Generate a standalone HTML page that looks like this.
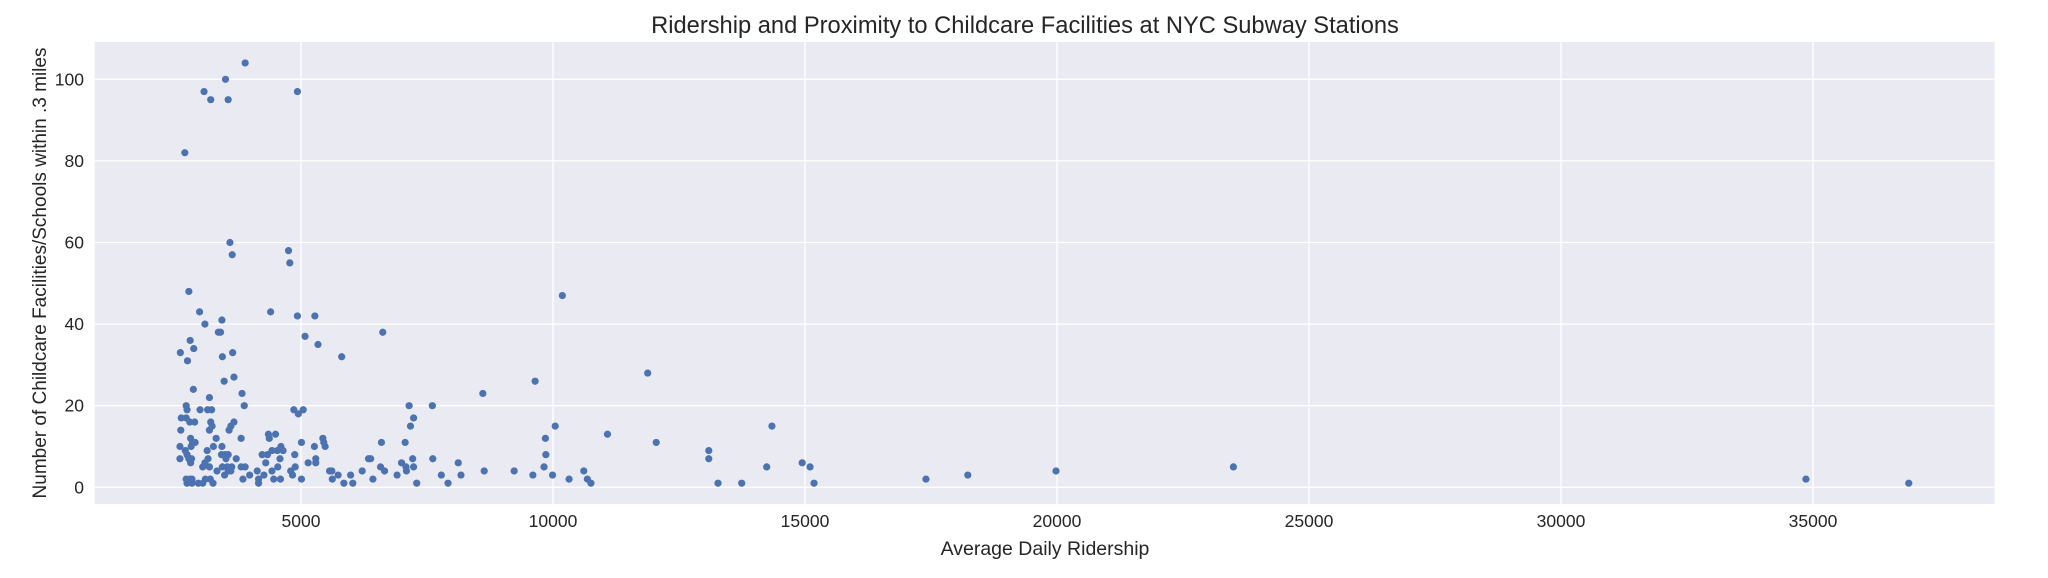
<!DOCTYPE html>
<html><head><meta charset="utf-8"><style>
html,body{margin:0;padding:0;background:#fff;}
svg{display:block;font-family:"Liberation Sans",Arial,sans-serif;}
</style></head><body>
<svg id="chart" width="2048" height="578">
<rect x="94.7" y="42" width="1900" height="462" fill="#eaeaf2"/>
<g id="grid"></g>
<g id="xticks"></g>
<g id="yticks"></g>
<g id="points"></g>
<text x="1025" y="33" font-size="23.7" fill="#262626" text-anchor="middle">Ridership and Proximity to Childcare Facilities at NYC Subway Stations</text>
<text x="1045" y="555" font-size="19.5" fill="#262626" text-anchor="middle">Average Daily Ridership</text>
<text x="0" y="0" font-size="19" fill="#262626" text-anchor="middle" transform="translate(46,273) rotate(-90)">Number of Childcare Facilities/Schools within .3 miles</text>
</svg>
<script>
const ridership = [3892,3502,3076,3209,3555,4929,2695,3590,3635,4752,4778,2775,2988,3094,3431,3360,3404,4397,4929,5275,5080,5337,6622,10186,2606,2801,2872,2748,3440,3644,3670,3475,5807,2864,2722,2739,3183,2997,3147,3227,3830,3874,4858,5044,4947,7145,7606,8608,9645,11879,2624,2722,2793,2890,2615,3209,3236,3183,3573,3608,3670,7172,7234,10044,11081,12048,2598,2810,2846,2899,2819,2704,2739,3316,3138,3262,3431,3812,4353,4495,4371,5009,6596,7066,5266,5434,5452,5479,4601,4645,4530,4424,9849,2598,2775,2810,2828,3094,3156,3422,3493,3555,3511,3715,4229,4335,4583,4300,4876,5142,5293,5293,6339,6383,6995,7216,7615,8120,9858,3050,3183,3440,3537,3626,3892,3812,4539,4885,6578,7083,7234,9822,3333,3555,3608,4131,4424,4264,3484,3981,4796,4832,5567,5612,6214,6658,7092,8635,9229,10611,5736,5984,6906,7784,8174,9601,9991,2722,2801,2837,3103,3200,3848,4158,4459,4592,5009,5621,6427,10319,10682,2739,2837,2961,3050,3254,4158,5851,6028,7296,7917,10753,13091,13091,13274,13744,14240,14344,14944,15100,15179,17400,18230,19980,23500,34860,36900];
const facilities = [104,100,97,95,95,97,82,60,57,58,55,48,43,40,41,38,38,43,42,42,37,35,38,47,33,36,34,31,32,33,27,26,32,24,20,19,22,19,19,19,23,20,19,19,18,20,20,23,26,28,17,17,16,16,14,16,15,14,14,15,16,15,17,15,13,11,10,12,11,11,10,9,8,12,9,10,10,12,13,13,12,11,11,11,10,12,11,10,10,9,9,9,12,7,7,6,7,6,7,8,8,8,7,7,8,8,7,6,8,6,7,6,7,7,6,7,7,6,8,5,5,5,5,5,5,5,5,5,5,5,5,5,4,4,4,4,4,3,3,3,4,3,4,4,4,4,4,4,4,4,3,3,3,3,3,3,3,2,2,2,2,2,2,2,2,2,2,2,2,2,2,1,1,1,1,1,1,1,1,1,1,1,9,7,1,1,5,15,6,5,1,2,3,4,5,2,1];
const xTicks = [5000,10000,15000,20000,25000,30000,35000];
const yTicks = [0,20,40,60,80,100];
const NS="http://www.w3.org/2000/svg";
const xScale = v => 301 + (v-5000)*0.0504;
const yScale = v => 487.3 - v*4.08;
const grid=document.getElementById('grid'), xt=document.getElementById('xticks'), yt=document.getElementById('yticks'), pts=document.getElementById('points');
xTicks.forEach(t=>{
  const l=document.createElementNS(NS,'line');
  l.setAttribute('x1',xScale(t));l.setAttribute('x2',xScale(t));l.setAttribute('y1',42);l.setAttribute('y2',504);
  l.setAttribute('stroke','#fff');l.setAttribute('stroke-width','1.3');
  
  
  grid.appendChild(l);
  const tx=document.createElementNS(NS,'text');
  tx.setAttribute('x',xScale(t));tx.setAttribute('y',527);tx.setAttribute('font-size','17.5');tx.setAttribute('fill','#262626');tx.setAttribute('text-anchor','middle');
  tx.textContent=t;
  
  
  xt.appendChild(tx);
});
yTicks.forEach(t=>{
  const l=document.createElementNS(NS,'line');
  l.setAttribute('x1',94.7);l.setAttribute('x2',1994.7);l.setAttribute('y1',yScale(t));l.setAttribute('y2',yScale(t));
  l.setAttribute('stroke','#fff');l.setAttribute('stroke-width','1.3');
  
  
  grid.appendChild(l);
  const tx=document.createElementNS(NS,'text');
  tx.setAttribute('x',84);tx.setAttribute('y',yScale(t)+6);tx.setAttribute('font-size','17.5');tx.setAttribute('fill','#262626');tx.setAttribute('text-anchor','end');
  tx.textContent=t;
  
  
  yt.appendChild(tx);
});
ridership.forEach((r,i)=>{
  const c=document.createElementNS(NS,'circle');
  c.setAttribute('cx',xScale(r));c.setAttribute('cy',yScale(facilities[i]));c.setAttribute('r','3.6');c.setAttribute('fill','#4c72b0');
  
  
  pts.appendChild(c);
});
</script>
</body></html>
